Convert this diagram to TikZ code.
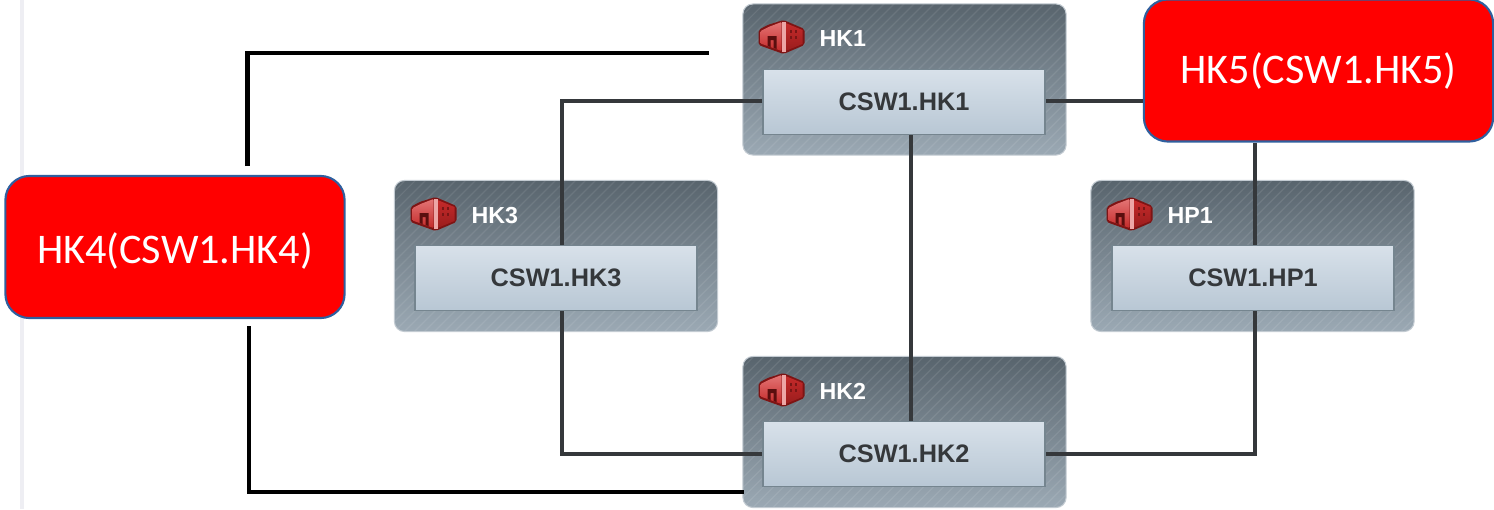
\documentclass[tikz,border=0pt]{standalone}
\usepackage{fontspec}
\setmainfont{Liberation Sans}
\newfontfamily\calib{Carlito}
\usetikzlibrary{calc}
\definecolor{linkgray}{HTML}{35383B}
\definecolor{redborder}{HTML}{2F5F9E}
\definecolor{outertop}{HTML}{58646D}
\definecolor{outerbot}{HTML}{9BA9B4}
\definecolor{innertop}{HTML}{D8E1EA}
\definecolor{innerbot}{HTML}{B8C7D4}
\definecolor{innerline}{HTML}{75858F}
\definecolor{sideline}{HTML}{EEEEF3}
\definecolor{iconedge}{HTML}{7E1414}
\definecolor{iconleft}{HTML}{D83A3A}
\definecolor{iconright}{HTML}{C42A2A}
\definecolor{icondark}{HTML}{5A0E0E}
\tikzset{
  x=0.01cm,y=-0.01cm,
  sitebox/.style={rounded corners=0.1cm,minimum width=3.23cm,minimum height=1.51cm,inner sep=0pt,
    top color=outertop,bottom color=outerbot,draw=outerbot!60!white,line width=0.3pt,
    path picture={
      \foreach \k in {-16,...,40}{
        \draw[white,opacity=0.09,line width=0.35pt]
          ($(path picture bounding box.south west)+(\k*0.1cm,0)$) -- ++(2cm,2cm);
      }}},
  devbox/.style={minimum width=2.82cm,minimum height=0.65cm,inner sep=0pt,
    top color=innertop,bottom color=innerbot,draw=innerline,line width=0.5pt,
    text=linkgray,font=\bfseries\fontsize{7.2}{8}\selectfont},
  sitelabel/.style={anchor=west,inner sep=0pt,text=white,font=\bfseries\fontsize{6.6}{8}\selectfont},
  redbox/.style={rounded corners=0.24cm,inner sep=0pt,fill=red,draw=redborder,line width=0.6pt,
    text=white,font=\calib\fontsize{12}{14}\selectfont},
  link/.style={draw=linkgray,line width=0.95pt},
  heavy/.style={draw=black,line width=1.15pt},
  building/.pic={
    \fill[iconedge,rounded corners=0.02cm] (-23,-7) -- (-14,-12) -- (2,-17) -- (23,-8) -- (23,8) -- (2,17) -- (-23,8) -- cycle;
    \shade[top color=iconleft!70!white,bottom color=iconright,rounded corners=0.01cm] (-21,-6) -- (-13,-10) -- (0,-15) -- (0,14) -- (-21,6.5) -- cycle;
    \shade[top color=iconright,bottom color=iconedge!60!iconright] (4,-14) -- (21,-7) -- (21,7) -- (4,14) -- cycle;
    \fill[white!55!iconleft] (0,-15) -- (4,-15) -- (4,15) -- (0,15) -- cycle;
    \fill[icondark] (-14,-1) -- (-5,-1) -- (-5,12) -- (-8,11) -- (-8,3) -- (-11,3) -- (-11,10) -- (-14,9) -- cycle;
    \foreach \u in {8,13}{\fill[icondark!70!iconright] (\u,-7) rectangle ++(2.5,2.5);\fill[icondark!70!iconright] (\u,-1) rectangle ++(2.5,2.5);}
  }
}
\begin{document}
\begin{tikzpicture}
\useasboundingbox (0,0) rectangle (1494,509);
\fill[sideline] (20,0) rectangle (24,509);
% site boxes
\node[sitebox] (hk1) at (904.5,79.5) {};
\node[sitebox] (hk3) at (556,256) {};
\node[sitebox] (hp1) at (1252.5,256) {};
\node[sitebox] (hk2) at (904.5,432) {};
% icons
\path (781.5,37) pic {building};
\path (433.5,214) pic {building};
\path (1129.5,214) pic {building};
\path (781.5,390) pic {building};
% site labels
\node[sitelabel] (l1) at (819,39) {HK1};
\node[sitelabel] (l3) at (471,216) {HK3};
\node[sitelabel] (lp) at (1167,216) {HP1};
\node[sitelabel] (l2) at (819,391) {HK2};
% device boxes
\node[devbox] (c1) at (904,102) {CSW1.HK1};
\node[devbox] (c3) at (556,278) {CSW1.HK3};
\node[devbox] (cp) at (1253,278) {CSW1.HP1};
\node[devbox] (c2) at (904,454) {CSW1.HK2};
% red boxes
\node[redbox,minimum width=3.39cm,minimum height=1.42cm] (hk4) at (175,247) {\raisebox{-0.035cm}[\height][\depth]{HK4(CSW1.HK4)}};
\node[redbox,minimum width=3.49cm,minimum height=1.42cm] (hk5) at (1318.5,70.5) {HK5(CSW1.HK5)};
% connectors
\draw[link] ([yshift=0.01cm]c1.west) -| ([xshift=0.06cm]c3.north);
\draw[link] ([xshift=0.06cm]c3.south) |- (c2.west);
\draw[link] ([yshift=0.01cm]c1.east) -- ([yshift=0.01cm]c1.east -| hk5.west);
\draw[link] ([xshift=0.02cm]cp.north) -- ([xshift=0.02cm]cp.north |- hk5.south);
\draw[link] ([xshift=0.02cm]cp.south) |- (c2.east);
\draw[link] ([xshift=0.07cm]c1.south) -- ([xshift=0.07cm]c2.north);
\coordinate (topfree) at (709,53);
\coordinate (hk4up) at (247.5,166);
\coordinate (hk4down) at (249,326);
\draw[heavy] (hk4up) |- (topfree);
\draw[heavy] (hk4down) |- ([xshift=0.02cm,yshift=-0.6cm]hk2.west);
\end{tikzpicture}
\end{document}
